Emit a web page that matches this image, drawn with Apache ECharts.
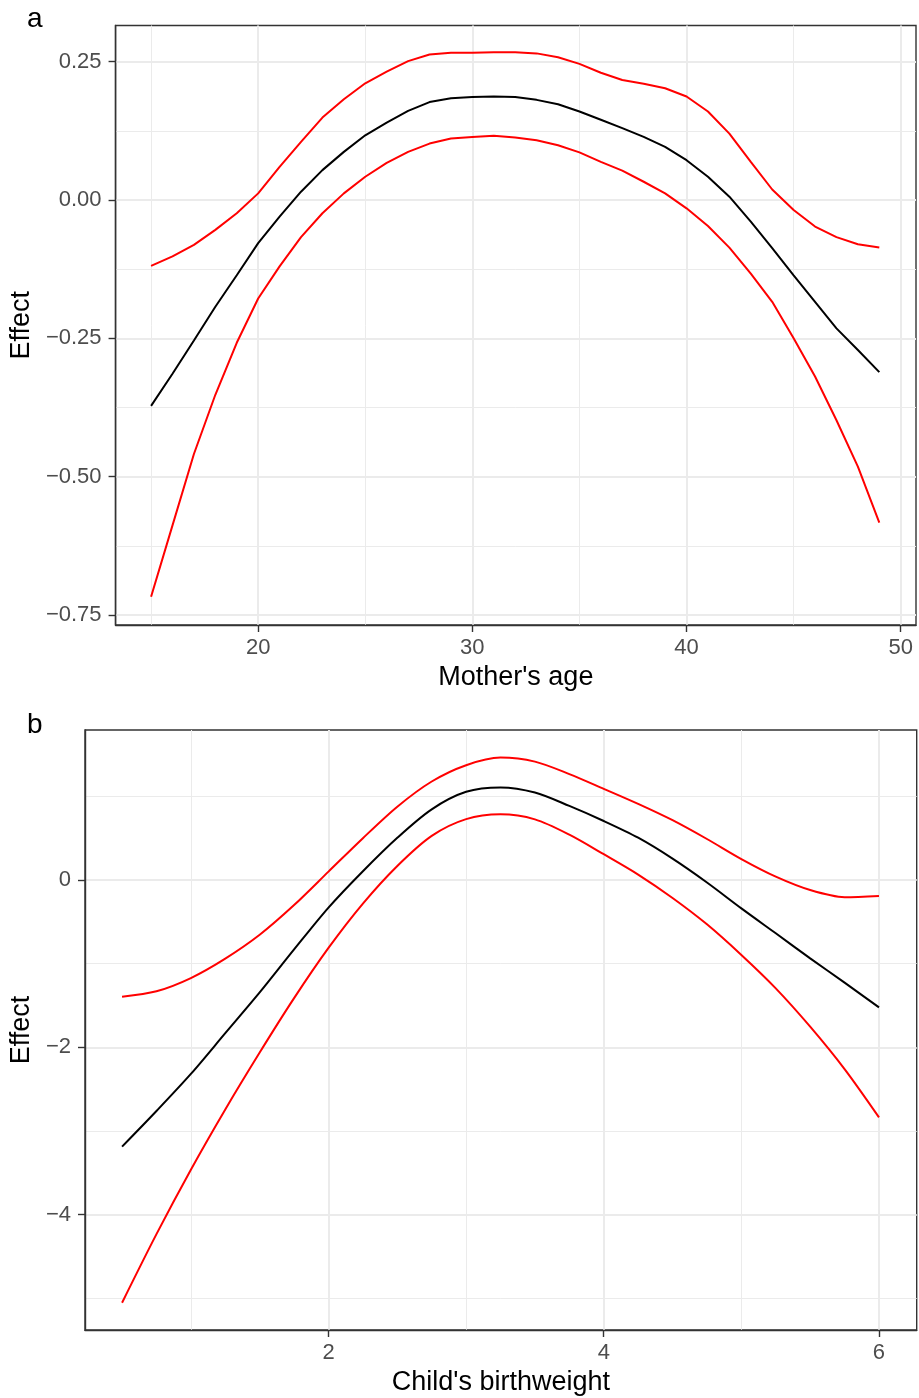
<!DOCTYPE html>
<html>
<head>
<meta charset="utf-8">
<script src="https://cdn.jsdelivr.net/npm/echarts@6/dist/echarts.min.js"></script>
<style>
  html, body { margin: 0; padding: 0; background: #fff; }
  #chart { width: 919px; height: 1398px; }
</style>
</head>
<body>
<div id="chart"></div>
<script>
// panel a: mother's age
var ages = [15,16,17,18,19,20,21,22,23,24,25,26,27,28,29,30,31,32,33,34,35,36,37,38,39,40,41,42,43,44,45,46,47,48,49];
var fitA = [-0.372,-0.314,-0.254,-0.193,-0.136,-0.078,-0.030,0.015,0.054,0.087,0.117,0.140,0.161,0.177,0.184,0.186,0.187,0.186,0.181,0.173,0.160,0.145,0.130,0.114,0.096,0.072,0.042,0.006,-0.039,-0.087,-0.136,-0.184,-0.232,-0.271,-0.311];
var upperA = [-0.119,-0.102,-0.081,-0.054,-0.024,0.012,0.060,0.105,0.149,0.182,0.211,0.232,0.251,0.263,0.266,0.266,0.267,0.267,0.265,0.258,0.246,0.230,0.217,0.210,0.202,0.187,0.160,0.120,0.069,0.019,-0.018,-0.048,-0.067,-0.080,-0.086];
var lowerA = [-0.717,-0.588,-0.459,-0.352,-0.258,-0.178,-0.120,-0.067,-0.024,0.012,0.042,0.067,0.087,0.102,0.111,0.114,0.116,0.113,0.108,0.099,0.086,0.069,0.053,0.033,0.012,-0.015,-0.047,-0.086,-0.133,-0.184,-0.250,-0.319,-0.398,-0.482,-0.583];

// panel b: child's birthweight
var weights = [0.5,0.75,1,1.25,1.5,1.75,2,2.25,2.5,2.75,3,3.25,3.5,3.75,4,4.25,4.5,4.75,5,5.25,5.5,5.75,6];
var fitB = [-3.187,-2.761,-2.318,-1.831,-1.344,-0.830,-0.330,0.105,0.505,0.845,1.054,1.106,1.045,0.885,0.705,0.505,0.255,-0.030,-0.339,-0.637,-0.936,-1.227,-1.522];
var upperB = [-1.395,-1.330,-1.172,-0.940,-0.655,-0.300,0.100,0.500,0.876,1.177,1.372,1.463,1.415,1.266,1.090,0.910,0.715,0.490,0.250,0.040,-0.120,-0.205,-0.190];
var lowerB = [-5.052,-4.232,-3.462,-2.742,-2.062,-1.412,-0.812,-0.282,0.168,0.528,0.728,0.785,0.725,0.542,0.308,0.065,-0.215,-0.530,-0.896,-1.295,-1.753,-2.260,-2.837];

// tick labels
var xTicksA = [20,30,40,50], xMinorA = [15,25,35,45];
var yTicksA = [-0.75,-0.5,-0.25,0,0.25], yMinorA = [-0.625,-0.375,-0.125,0.125];
var xTicksB = [2,4,6], xMinorB = [1,3,5];
var yTicksB = [-4,-2,0], yMinorB = [-5,-3,-1,1];

function pairs(xs, ys) {
    return xs.map(function (x, i) { return [x, ys[i]]; });
}
function minus(s) { return String(s).replace('-', '\u2212'); }

var font = 'Liberation Sans';
var gridColor = '#EBEBEB';

function majorAxis(grid, pos, min, max, ticks, fmt, name, gap) {
    return {
        type: 'value', gridIndex: grid, position: pos, min: min, max: max,
        name: name, nameLocation: 'middle', nameGap: gap,
        nameTextStyle: { color: '#000', fontSize: 27, fontFamily: font },
        axisLine: { show: true, onZero: false, lineStyle: { color: '#333', width: 1.4 } },
        axisTick: { show: true, length: 7, customValues: ticks, lineStyle: { color: '#333', width: 1.4 } },
        axisLabel: { show: true, customValues: ticks, formatter: fmt, color: '#4D4D4D',
            fontSize: 22, fontFamily: font, margin: pos === 'left' ? 14 : 12 },
        splitLine: { show: true, lineStyle: { color: gridColor, width: 2 } }
    };
}
function minorAxis(grid, pos, min, max, ticks) {
    return {
        type: 'value', gridIndex: grid, position: pos, min: min, max: max,
        axisLine: { show: false, onZero: false },
        axisTick: { show: false, customValues: ticks },
        axisLabel: { show: false, customValues: ticks },
        splitLine: { show: true, lineStyle: { color: gridColor, width: 1 } }
    };
}
function line(xi, yi, data, color, smooth) {
    return {
        type: 'line', xAxisIndex: xi, yAxisIndex: yi, data: data,
        showSymbol: false, smooth: smooth, silent: true, z: 3,
        lineStyle: { color: color, width: 2 }
    };
}

var chart = echarts.init(document.getElementById('chart'));
chart.setOption({
    animation: false,
    backgroundColor: '#fff',
    title: [
        { text: 'a', left: 22, top: 0, textStyle: { color: '#000', fontSize: 28, fontWeight: 'normal', fontFamily: font } },
        { text: 'b', left: 22, top: 706, textStyle: { color: '#000', fontSize: 28, fontWeight: 'normal', fontFamily: font } }
    ],
    grid: [
        { left: 114.5, top: 25.5, width: 801.5, height: 599.5, show: true, borderColor: '#333', borderWidth: 1.4 },
        { left: 84.7, top: 730, width: 832, height: 600, show: true, borderColor: '#333', borderWidth: 1.4 }
    ],
    xAxis: [
        majorAxis(0, 'bottom', 13.342, 50.713, xTicksA, function (v) { return v; }, "Mother's age", 39),
        minorAxis(0, 'top', 13.342, 50.713, xMinorA),
        majorAxis(1, 'bottom', 0.2306, 6.274, xTicksB, function (v) { return v; }, "Child's birthweight", 39),
        minorAxis(1, 'top', 0.2306, 6.274, xMinorB)
    ],
    yAxis: [
        majorAxis(0, 'left', -0.7681, 0.3154, yTicksA, function (v) { return minus(v.toFixed(2)); }, 'Effect', 76),
        minorAxis(0, 'right', -0.7681, 0.3154, yMinorA),
        majorAxis(1, 'left', -5.378, 1.7927, yTicksB, function (v) { return minus(v); }, 'Effect', 46),
        minorAxis(1, 'right', -5.378, 1.7927, yMinorB)
    ],
    series: [
        line(0, 0, pairs(ages, upperA), '#FF0000', false),
        line(0, 0, pairs(ages, lowerA), '#FF0000', false),
        line(0, 0, pairs(ages, fitA), '#000000', false),
        line(2, 2, pairs(weights, upperB), '#FF0000', 0.3),
        line(2, 2, pairs(weights, lowerB), '#FF0000', 0.3),
        line(2, 2, pairs(weights, fitB), '#000000', 0.3)
    ]
});
</script>
</body>
</html>
